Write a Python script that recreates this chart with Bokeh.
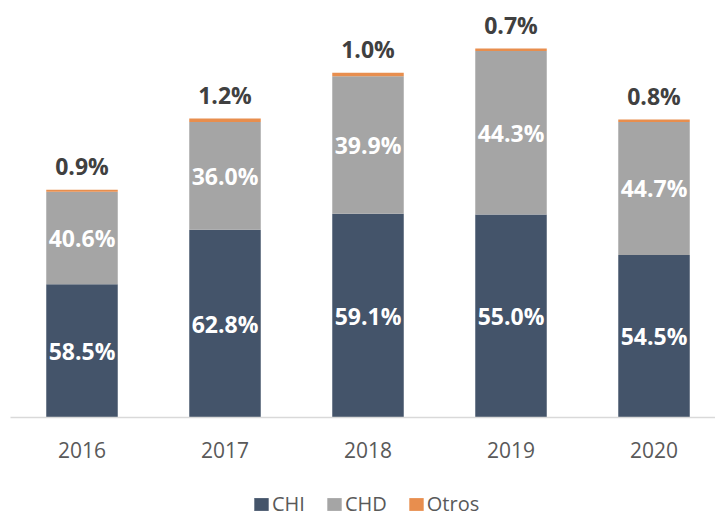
from bokeh.plotting import figure
from bokeh.layouts import column
from bokeh.models import ColumnDataSource, Range1d, FixedTicker, Legend
from bokeh.core.properties import value
from bokeh.embed import file_html
from bokeh.resources import INLINE

# ---- data ----
years = ["2016", "2017", "2018", "2019", "2020"]
totals = [227.7, 299.0, 344.7, 369.0, 298.0]   # bar heights (relative units)
chi_pct = [58.5, 62.8, 59.1, 55.0, 54.5]
chd_pct = [40.6, 36.0, 39.9, 44.3, 44.7]
otros_pct = [0.9, 1.2, 1.0, 0.7, 0.8]
series = ["CHI", "CHD", "Otros"]
colors = ["#44546A", "#A5A5A5", "#E88E4E"]

xs = list(range(len(years)))
chi = [t * p / 100 for t, p in zip(totals, chi_pct)]
chd = [t * p / 100 for t, p in zip(totals, chd_pct)]
otros = [t - a - b for t, a, b in zip(totals, chi, chd)]

source = ColumnDataSource(dict(
    x=xs, CHI=chi, CHD=chd, Otros=otros,
    chi_y=[a / 2 for a in chi],
    chd_y=[a + b / 2 for a, b in zip(chi, chd)],
    top=totals,
    chi_lbl=[f"{v:.1f}%" for v in chi_pct],
    chd_lbl=[f"{v:.1f}%" for v in chd_pct],
    otros_lbl=[f"{v:.1f}%" for v in otros_pct],
))

p = figure(frame_width=705, frame_height=407, output_backend="svg", toolbar_location=None,
           x_range=Range1d(-0.5, 4.43), y_range=Range1d(0, 407),
           min_border_left=10, min_border_right=0, min_border_top=10, min_border_bottom=60)
p.outline_line_color = None
p.grid.visible = False
p.yaxis.visible = False

renderers = p.vbar_stack(series, x="x", width=0.5, source=source,
                         fill_color=colors, line_color=None)

fnt = value("Open Sans")
p.text(x="x", y="chi_y", text="chi_lbl", source=source, text_font=fnt,
       text_font_size="23px", text_font_style="bold", text_color="white",
       text_align="center", text_baseline="middle")
p.text(x="x", y="chd_y", text="chd_lbl", source=source, text_font=fnt,
       text_font_size="23px", text_font_style="bold", text_color="white",
       text_align="center", text_baseline="middle")
p.text(x="x", y="top", text="otros_lbl", source=source, text_font=fnt,
       text_font_size="23px", text_font_style="bold", text_color="#404040",
       text_align="center", text_baseline="middle", y_offset=-24)

ax = p.xaxis[0]
ax.ticker = FixedTicker(ticks=xs)
ax.major_label_overrides = {i: y for i, y in zip(xs, years)}
ax.axis_line_color = "#D9D9D9"
ax.axis_line_width = 1.5
ax.major_tick_line_color = None
ax.minor_tick_line_color = None
ax.major_label_text_font = "Open Sans"
ax.major_label_text_font_size = "21px"
ax.major_label_text_color = "#595959"
ax.major_label_standoff = 18

# legend strip below the chart (legend-only swatches kept outside the visible range)
p2 = figure(width=715, height=50, output_backend="svg", toolbar_location=None,
            x_range=Range1d(0, 715), y_range=Range1d(0, 50), min_border=0)
p2.outline_line_color = None
p2.grid.visible = False
p2.axis.visible = False
leg_r = [p2.vbar(x=[-1000], top=[1], width=1, fill_color=c, line_color=None) for c in colors]
legend = Legend(items=[(s, [r]) for s, r in zip(series, leg_r)],
                orientation="horizontal", location=(242, 10),
                label_text_font="Open Sans", label_text_font_size="20px",
                label_text_color="#595959", glyph_width=18, glyph_height=16,
                label_standoff=2, spacing=20, padding=0, margin=0,
                border_line_color=None, background_fill_alpha=0)
p2.add_layout(legend, "center")

layout = column(p, p2, spacing=0)
open("out.html", "w").write(file_html(layout, INLINE))
